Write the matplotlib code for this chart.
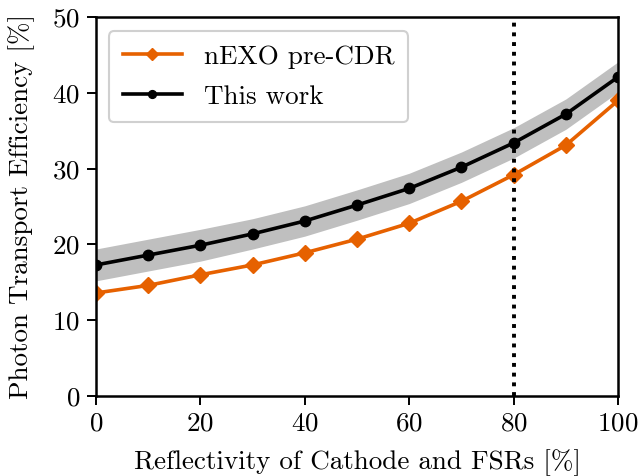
import matplotlib
matplotlib.use("Agg")
import matplotlib.pyplot as plt
import numpy as np

reflectivity = [0, 10, 20, 30, 40, 50, 60, 70, 80, 90, 100]
nexo_precdr = [13.6, 14.6, 16.0, 17.3, 18.9, 20.7, 22.8, 25.7, 29.2, 33.1, 39.0]
this_work = [17.3, 18.6, 19.9, 21.4, 23.1, 25.2, 27.4, 30.2, 33.4, 37.2, 42.1]
this_work_err = [2.1, 2.1, 2.1, 2.0, 2.0, 2.0, 2.0, 2.0, 2.0, 2.0, 2.0]
vline_x = 80

plt.rcParams['font.family'] = ['cmr10', 'DejaVu Serif']
plt.rcParams['mathtext.fontset'] = 'cm'
plt.rcParams['axes.formatter.use_mathtext'] = True
fs = 19.5

fig = plt.figure(figsize=(6.41, 4.76), dpi=100)
ax = fig.add_axes([0.1498, 0.168, 0.8144, 0.796])

tw = np.array(this_work)
err = np.array(this_work_err)
ax.fill_between(reflectivity, tw - err, tw + err, color='#bfbfbf', lw=0)
ax.plot(reflectivity, nexo_precdr, color='#e66100', marker='D', ms=8, lw=2.6, label='nEXO pre-CDR')
ax.plot(reflectivity, this_work, color='black', marker='o', ms=7.5, lw=2.6, label='This work')
ax.axvline(vline_x, color='black', ls=(0, (1, 1.5)), lw=2.8)

ax.set_xlim(0, 100)
ax.set_ylim(0, 50)
ax.set_xticks([0, 20, 40, 60, 80, 100])
ax.set_yticks([0, 10, 20, 30, 40, 50])
ax.tick_params(direction='out', length=6.5, width=1.4, labelsize=fs, pad=5)
for s in ax.spines.values():
    s.set_linewidth(1.8)
ax.set_xlabel('Reflectivity of Cathode and FSRs [%]', fontsize=fs, labelpad=10)
ax.set_ylabel('Photon Transport Efficiency [%]', fontsize=fs, labelpad=12)
leg = ax.legend(loc='upper left', bbox_to_anchor=(0.025, 0.963), borderaxespad=0,
                fontsize=19.5, frameon=True, fancybox=True, edgecolor='#d0d0d0',
                framealpha=1, handlelength=2.2, labelspacing=0.6, borderpad=0.5,
                markerscale=0.75)
leg.get_frame().set_linewidth(1.5)
fig.savefig('out.png', dpi=100)
